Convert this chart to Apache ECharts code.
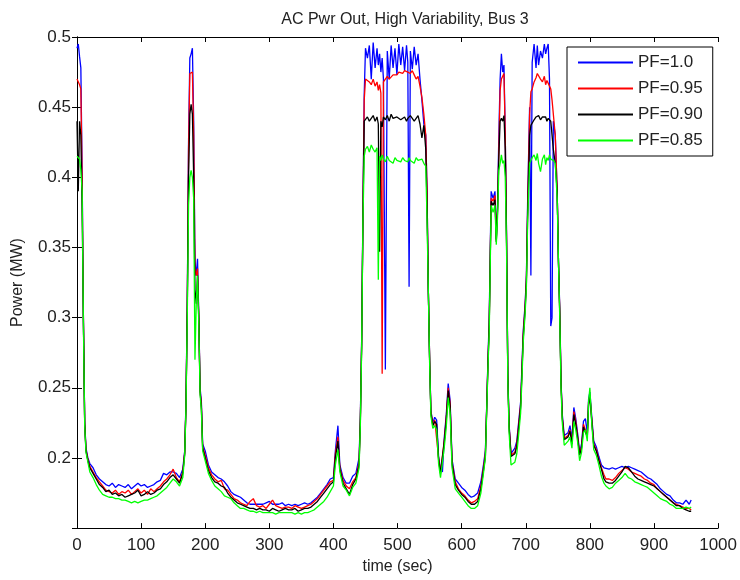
<!DOCTYPE html>
<html>
<head>
<meta charset="utf-8">
<script src="https://cdn.jsdelivr.net/npm/echarts@6/dist/echarts.min.js"></script>
<style>
  html, body { margin: 0; padding: 0; background: #fff; }
  #chart { width: 740px; height: 580px; }
</style>
</head>
<body>
<div id="chart"></div>
<script>
// time samples (sec), shared by all four curves
var times = [
  0, 2, 4, 6, 8, 10, 12, 14, 17, 20,
  25, 30, 35, 40, 45, 50, 55, 60, 65, 70, 75, 80, 85, 90, 95, 100, 105, 110, 115, 120, 125, 130, 135, 140, 145, 150, 155, 160, 165,
  168, 170, 172, 174, 176, 178, 180, 182, 184, 186, 188, 190, 192, 194, 196, 200,
  205, 210, 215, 220, 225, 230, 235, 240, 245, 250, 255, 260, 265, 270, 275, 280, 285, 290, 295, 300,
  305, 310, 315, 320, 325, 330, 335, 340, 345, 350, 355, 360, 365, 370, 375, 380, 385, 390, 395, 400,
  403, 407, 410, 415, 420, 425, 430, 435, 440,
  442, 444, 446, 448, 450, 453, 456, 459, 462, 465, 468, 470, 472, 474, 476, 478, 481, 484, 487, 490,
  493, 496, 499, 502, 505, 508, 511, 514, 516, 518, 520, 523, 526, 529, 532, 535, 538, 541, 544, 546,
  548, 550, 552, 555, 558, 561, 564, 567, 570, 573, 576, 579, 582, 585, 590, 595, 600, 605, 610, 615,
  620, 625, 630, 634, 637,
  639, 641, 643, 646, 649, 652, 654, 656, 658, 660, 662, 664, 666, 668, 670, 672, 674, 677, 680, 683,
  686, 689, 692, 694, 696, 699, 701, 703, 706, 708,
  710, 713, 716, 718, 720, 723, 726, 729, 731, 733, 735, 737, 739, 741, 743, 746, 749, 751, 753, 755,
  757, 760, 763, 766, 769, 772, 775, 778, 781, 784, 787, 790, 793, 796, 798, 800, 803, 806, 810, 814, 818, 822,
  825, 830, 835, 840, 845, 850, 855, 860, 865, 870, 875, 880, 885, 890, 895, 900, 905, 910, 915, 920,
  925, 930, 935, 940, 945, 950, 955, 958
];

var pf100 = [
  .492, .495, .486, .478, .404, .300, .226, .207, .200, .196,
  .193, .188, .185, .183, .181, .180, .182, .179, .181, .180, .179, .181, .178, .180, .182, .180, .181, .179, .180, .181, .183, .184, .189, .188, .190, .190, .189, .186, .192,
  .205, .240, .310, .425, .485, .488, .492, .440, .340, .330, .342, .300, .250, .240, .210, .205,
  .195, .190, .188, .186, .185, .183, .180, .176, .174, .173, .172, .170, .168, .167, .167, .167, .167, .167, .168, .169,
  .167, .167, .167, .168, .166, .167, .166, .167, .166, .167, .168, .167, .168, .170, .172, .175, .178, .181, .185, .186,
  .205, .223, .195, .186, .182, .182, .187, .189, .200,
  .230, .284, .375, .459, .492, .485, .494, .470, .496, .478, .492, .480, .488, .475, .485, .470, .263, .490, .470, .494,
  .478, .492, .473, .495, .480, .493, .476, .494, .482, .322, .490, .477, .493, .480, .488, .470, .455, .438, .430, .390,
  .320, .272, .234, .225, .229, .227, .201, .192, .190, .215, .231, .253, .241, .199, .185, .182, .179, .177, .174, .172,
  .173, .175, .183, .195, .205,
  .236, .270, .300, .390, .385, .390, .356, .380, .430, .470, .488, .475, .480, .430, .360, .260, .224, .203, .203, .207,
  .212, .226, .240, .265, .290, .310, .330, .385, .450, .330,
  .482, .495, .478, .494, .480, .490, .485, .495, .488, .492, .495, .470, .294, .300, .440, .430, .390, .340, .307, .255,
  .231, .216, .215, .218, .223, .213, .236, .228, .217, .204, .210, .226, .228, .218, .242, .247, .229, .212, .208, .201, .195, .193,
  .193, .192, .193, .192, .193, .194, .193, .194, .193, .192, .191, .190, .188, .186, .185, .183, .181, .178, .176, .174,
  .173, .170, .168, .168, .167, .170, .167, .170
];

var pf095 = [
  .470, .469, .466, .463, .398, .300, .225, .206, .199, .194,
  .190, .186, .183, .180, .177, .176, .175, .177, .174, .176, .175, .177, .174, .176, .178, .175, .177, .174, .178, .176, .178, .180, .183, .185, .188, .192, .186, .183, .190,
  .204, .238, .308, .420, .474, .475, .475, .430, .335, .330, .335, .300, .248, .238, .208, .202,
  .193, .188, .185, .183, .184, .178, .177, .174, .171, .170, .168, .167, .166, .169, .171, .166, .165, .166, .164, .167,
  .170, .166, .165, .164, .165, .165, .164, .166, .165, .164, .165, .166, .167, .169, .171, .174, .177, .180, .183, .184,
  .203, .215, .193, .184, .180, .178, .183, .186, .197,
  .228, .282, .372, .455, .470, .471, .468, .466, .470, .465, .468, .462, .466, .460, .260, .468, .470, .472, .470, .471,
  .473, .474, .473, .475, .476, .474, .476, .477, .475, .475, .474, .476, .473, .470, .472, .465, .457, .445, .430, .390,
  .320, .272, .233, .224, .227, .226, .200, .190, .189, .213, .229, .250, .239, .197, .183, .178, .175, .173, .170, .168,
  .169, .171, .180, .193, .203,
  .235, .268, .296, .385, .383, .387, .355, .378, .420, .462, .470, .472, .474, .430, .358, .259, .223, .202, .201, .204,
  .210, .224, .238, .262, .288, .308, .328, .380, .445, .461,
  .463, .468, .471, .474, .474, .470, .468, .472, .466, .469, .467, .465, .463, .455, .445, .430, .390, .340, .305, .254,
  .229, .214, .213, .216, .220, .211, .233, .226, .215, .203, .208, .224, .225, .216, .240, .245, .227, .210, .206, .199, .193, .188,
  .185, .185, .184, .186, .189, .191, .193, .192, .190, .189, .188, .187, .185, .184, .182, .181, .178, .176, .174, .172,
  .170, .168, .167, .166, .165, .164, .164, .163
];

var pf090 = [
  .440, .390, .440, .430, .378, .298, .224, .205, .198, .193,
  .189, .185, .181, .179, .176, .177, .174, .175, .173, .174, .172, .173, .174, .175, .177, .173, .174, .176, .174, .175, .177, .178, .181, .183, .186, .188, .185, .182, .189,
  .203, .237, .305, .400, .445, .452, .445, .400, .320, .310, .330, .298, .247, .236, .207, .200,
  .191, .186, .183, .182, .180, .179, .175, .172, .170, .168, .167, .166, .165, .164, .164, .163, .164, .163, .163, .162,
  .164, .163, .162, .163, .164, .163, .163, .164, .162, .163, .164, .164, .165, .167, .169, .172, .175, .178, .181, .183,
  .200, .212, .192, .182, .178, .174, .181, .185, .195,
  .226, .280, .370, .440, .441, .443, .440, .442, .444, .440, .443, .438, .347, .440, .436, .443, .441, .444, .440, .445,
  .442, .441, .443, .444, .441, .442, .443, .440, .442, .441, .444, .443, .440, .442, .444, .438, .428, .437, .420, .380,
  .320, .270, .232, .223, .226, .224, .199, .189, .188, .212, .227, .248, .237, .196, .181, .177, .174, .172, .169, .167,
  .167, .169, .178, .191, .201,
  .234, .266, .294, .383, .380, .384, .354, .376, .415, .440, .442, .440, .444, .420, .355, .258, .222, .201, .200, .203,
  .208, .222, .236, .260, .285, .306, .325, .375, .430, .437,
  .438, .441, .443, .442, .444, .441, .443, .442, .443, .440, .442, .441, .440, .430, .420, .410, .390, .340, .303, .253,
  .228, .213, .212, .215, .219, .210, .231, .224, .214, .202, .207, .222, .223, .215, .238, .244, .226, .209, .205, .198, .192, .185,
  .183, .182, .182, .184, .187, .190, .194, .193, .190, .187, .185, .184, .183, .182, .181, .180, .178, .176, .174, .172,
  .170, .168, .166, .166, .164, .163, .162, .162
];

var pf085 = [
  .415, .414, .413, .405, .390, .295, .223, .204, .197, .190,
  .186, .181, .177, .174, .173, .172, .172, .171, .171, .170, .170, .169, .168, .169, .168, .169, .170, .170, .171, .172, .173, .175, .177, .179, .182, .185, .183, .180, .186,
  .202, .236, .300, .380, .400, .405, .400, .385, .270, .310, .330, .295, .245, .234, .205, .198,
  .189, .184, .180, .178, .176, .173, .172, .171, .168, .166, .164, .164, .163, .162, .162, .161, .162, .161, .161, .161,
  .161, .160, .161, .161, .161, .161, .161, .160, .161, .160, .161, .161, .162, .163, .165, .167, .169, .172, .176, .180,
  .195, .206, .190, .180, .177, .173, .179, .182, .193,
  .224, .278, .368, .415, .420, .422, .418, .423, .420, .418, .421, .327, .415, .412, .416, .413, .411, .415, .412, .413,
  .410, .414, .412, .413, .411, .414, .412, .413, .411, .414, .412, .413, .410, .414, .412, .411, .413, .410, .408, .370,
  .320, .268, .230, .221, .223, .220, .196, .186, .186, .208, .222, .243, .232, .193, .178, .175, .172, .169, .166, .164,
  .164, .166, .175, .189, .200,
  .232, .264, .290, .380, .375, .380, .352, .372, .405, .410, .416, .410, .412, .400, .350, .256, .218, .195, .194, .197,
  .203, .217, .232, .256, .282, .303, .322, .370, .410, .412,
  .414, .416, .412, .417, .410, .404, .413, .416, .409, .414, .412, .416, .413, .414, .412, .410, .385, .340, .300, .250,
  .225, .209, .210, .212, .215, .207, .226, .220, .211, .198, .204, .218, .220, .212, .240, .250, .224, .206, .202, .195, .187, .182,
  .180, .178, .179, .182, .184, .186, .189, .186, .185, .183, .182, .181, .180, .179, .177, .175, .173, .171, .170, .169,
  .167, .166, .164, .164, .164, .165, .164, .165
];

var seriesNames = ['PF=1.0', 'PF=0.95', 'PF=0.90', 'PF=0.85'];
var seriesColors = ['#0000ff', '#ff0000', '#000000', '#00ff00'];
var seriesValues = [pf100, pf095, pf090, pf085];

seriesValues.forEach(function (arr, k) {
  if (arr.length !== times.length) {
    throw new Error(seriesNames[k] + ' length ' + arr.length + ' != ' + times.length);
  }
});

var font = 'Liberation Sans, Arial, Helvetica, sans-serif';
var textColor = '#222';

var chart = echarts.init(document.getElementById('chart'));

var tickInside = { show: true, inside: true, length: 5, lineStyle: { color: '#000' } };
var axisLineBlack = { show: true, lineStyle: { color: '#000', width: 1 } };

var option = {
  animation: false,
  backgroundColor: '#fff',
  title: {
    text: 'AC Pwr Out, High Variability, Bus 3',
    left: 400,
    textAlign: 'center',
    top: 7,
    textStyle: { fontFamily: font, fontSize: 16, fontWeight: 'normal', color: textColor }
  },
  grid: { left: 77, right: 17, top: 37, bottom: 48, containLabel: false },
  legend: {
    orient: 'vertical',
    left: 567,
    top: 47,
    padding: [7, 10, 7, 11],
    icon: 'rect',
    itemWidth: 55,
    itemHeight: 2,
    itemGap: 9,
    backgroundColor: '#fff',
    borderColor: '#000',
    borderWidth: 1,
    textStyle: { fontFamily: font, fontSize: 17, color: textColor, lineHeight: 17 },
    data: seriesNames
  },
  xAxis: [
    {
      type: 'value',
      min: 0,
      max: 1000,
      interval: 100,
      name: 'time (sec)',
      nameLocation: 'middle',
      nameGap: 30,
      nameTextStyle: { fontFamily: font, fontSize: 16, color: textColor },
      axisLine: axisLineBlack,
      axisTick: tickInside,
      axisLabel: {
        fontFamily: font, fontSize: 17, color: textColor, margin: 9,
        formatter: function (v) { return String(v); }
      },
      splitLine: { show: false }
    },
    {
      type: 'value',
      position: 'top',
      min: 0,
      max: 1000,
      interval: 100,
      axisLine: axisLineBlack,
      axisTick: tickInside,
      axisLabel: { show: false },
      splitLine: { show: false }
    }
  ],
  yAxis: [
    {
      type: 'value',
      min: 0.15,
      max: 0.5,
      interval: 0.05,
      name: 'Power (MW)',
      nameLocation: 'middle',
      nameGap: 51,
      nameTextStyle: { fontFamily: font, fontSize: 16, color: textColor },
      axisLine: axisLineBlack,
      axisTick: tickInside,
      axisLabel: { fontFamily: font, fontSize: 17, color: textColor, margin: 6, showMinLabel: false },
      splitLine: { show: false }
    },
    {
      type: 'value',
      position: 'right',
      min: 0.15,
      max: 0.5,
      interval: 0.05,
      axisLine: axisLineBlack,
      axisTick: tickInside,
      axisLabel: { show: false },
      splitLine: { show: false }
    }
  ],
  series: seriesValues.map(function (vals, k) {
    return {
      name: seriesNames[k],
      type: 'line',
      xAxisIndex: 0,
      yAxisIndex: 0,
      symbol: 'none',
      color: seriesColors[k],
      lineStyle: { color: seriesColors[k], width: 1.3 },
      data: times.map(function (t, i) { return [t, vals[i]]; })
    };
  })
};

chart.setOption(option);
</script>
</body>
</html>
